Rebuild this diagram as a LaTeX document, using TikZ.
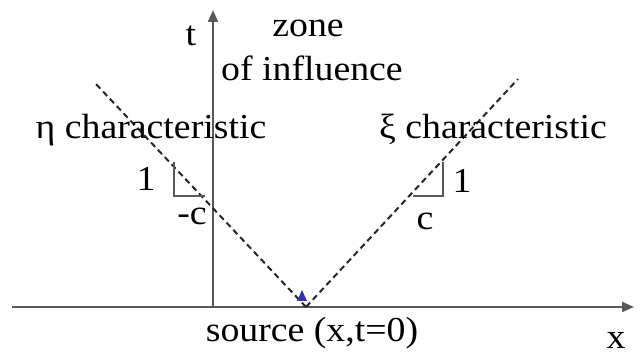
\documentclass[tikz,border=0pt]{standalone}
\usepackage{fontspec}
\setmainfont[FakeStretch=1.08]{Liberation Serif}
\usetikzlibrary{arrows.meta}
\begin{document}
\begin{tikzpicture}[x=1pt,y=-1pt,
  axis/.style={draw=black!65, line width=2pt},
  charline/.style={draw=black!85, line width=2pt, dash pattern=on 6pt off 4pt},
  tri/.style={draw=black!65, line width=1.8pt},
  lbl/.style={anchor=base, inner sep=0pt, font=\fontsize{35}{40}\selectfont}]
\useasboundingbox (0,0) rectangle (641,358);
% axes
\coordinate (xl) at (12,307);
\coordinate (xr) at (634,307);
\coordinate (tb) at (213,307);
\coordinate (tt) at (213,10);
\draw[axis, -{Triangle[length=12pt,width=10pt]}] (xl) -- (xr);
\draw[axis, -{Triangle[length=12pt,width=10pt]}] (tb) -- (tt);
% characteristics
\coordinate (src) at (306,307);
\coordinate (etaend) at (95,83);
\coordinate (xiend) at (518,79);
\draw[charline] (src) -- (etaend);
\draw[charline] (src) -- (xiend);
% slope triangles
\coordinate (lt) at (174,162);
\coordinate (lc) at (174,196);
\coordinate (lr) at (205,196);
\draw[tri] (lt) -- (lc) -- (lr);
\coordinate (rl) at (413,196);
\coordinate (rc) at (443,196);
\coordinate (rt) at (443,162);
\draw[tri] (rl) -- (rc) -- (rt);
% blue marker
\fill[blue!60!black!80!white] (297,301) -- (307,301) -- (302,290) -- cycle;
% labels
\node[lbl] (t) at (191,46) {t};
\node[lbl] (zone) at (308,37) {zone};
\node[lbl] (infl) at (312,81) {of influence};
\node[lbl] (eta) at (151,139) {η characteristic};
\node[lbl] (xi) at (493,139) {ξ characteristic};
\node[lbl] (one1) at (146,191) {1};
\node[lbl] (mc) at (192,225) {-c};
\node[lbl] (one2) at (462,193) {1};
\node[lbl] (c) at (425,230) {c};
\node[lbl] (source) at (312,342) {source (x,t=0)};
\node[lbl] (x) at (616,349) {x};
\end{tikzpicture}
\end{document}
